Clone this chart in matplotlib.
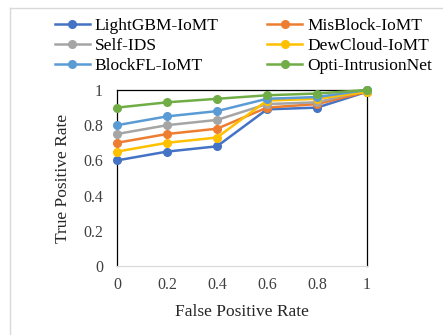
import matplotlib
matplotlib.use('Agg')
import matplotlib.pyplot as plt
from matplotlib.lines import Line2D

plt.rcParams['font.family'] = ['Liberation Serif', 'DejaVu Serif']

fpr = [0, 0.2, 0.4, 0.6, 0.8, 1]
lightgbm = [0.60, 0.65, 0.68, 0.89, 0.90, 0.99]
misblock = [0.70, 0.75, 0.78, 0.90, 0.92, 0.99]
self_ids = [0.75, 0.80, 0.83, 0.92, 0.93, 1.00]
dewcloud = [0.65, 0.70, 0.73, 0.94, 0.95, 0.99]
blockfl = [0.80, 0.85, 0.88, 0.95, 0.96, 1.00]
opti = [0.90, 0.93, 0.95, 0.97, 0.98, 1.00]

names = ['LightGBM-IoMT', 'MisBlock-IoMT', 'Self-IDS', 'DewCloud-IoMT',
         'BlockFL-IoMT', 'Opti-IntrusionNet']
series = [lightgbm, misblock, self_ids, dewcloud, blockfl, opti]
colors = ['#4472C4', '#ED7D31', '#A5A5A5', '#FFC000', '#5B9BD5', '#70AD47']

fig = plt.figure(figsize=(4.43, 3.35), dpi=100)
ax = fig.add_axes([117 / 443, 69 / 335, 250 / 443, 176 / 335])

for name, vals, c in zip(names, series, colors):
    ax.plot(fpr, vals, color=c, lw=1.8, marker='o', markersize=5.5,
            label=name, clip_on=False, zorder=3)

ax.set_xlim(0, 1)
ax.set_ylim(0, 1)
ax.set_xticks(fpr)
ax.set_xticklabels(['0', '0.2', '0.4', '0.6', '0.8', '1'])
ax.set_yticks([0, 0.2, 0.4, 0.6, 0.8, 1])
ax.set_yticklabels(['0', '0.2', '0.4', '0.6', '0.8', '1'])
ax.tick_params(axis='both', length=0, labelsize=11.5, colors='#404040', pad=8)
ax.tick_params(axis='y', pad=10)
for s in ['left', 'right', 'top']:
    ax.spines[s].set_color('black')
    ax.spines[s].set_linewidth(0.9)
ax.spines['bottom'].set_color('#D9D9D9')
ax.spines['bottom'].set_linewidth(0.9)

ax.set_xlabel('False Positive Rate', fontsize=12.5, color='#262626', labelpad=8)
ax.set_ylabel('True Positive Rate', fontsize=12.5, color='#262626', labelpad=9)

# legend: two columns, filled row by row like the original
handles, labels = ax.get_legend_handles_labels()
order = [0, 2, 4, 1, 3, 5]
fig.legend([handles[i] for i in order], [labels[i] for i in order], ncol=2,
           loc='upper left', bbox_to_anchor=(0.108, 0.967), frameon=False,
           fontsize=12.5, handlelength=2.0, columnspacing=2.8,
           labelspacing=0.22, handletextpad=0.3, borderaxespad=0)

# light frame of the chart area
fig.add_artist(Line2D([10 / 443, 1], [1 - 8 / 335, 1 - 8 / 335],
                      transform=fig.transFigure, color='#D9D9D9', lw=1))
fig.add_artist(Line2D([10 / 443, 10 / 443], [0, 1 - 8 / 335],
                      transform=fig.transFigure, color='#D9D9D9', lw=1))

fig.savefig('out.png', dpi=100)
